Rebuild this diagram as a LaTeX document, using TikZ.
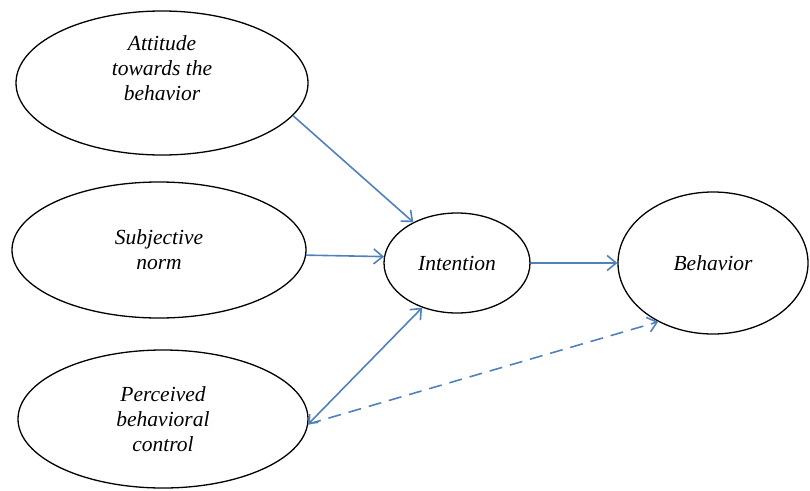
\documentclass[tikz,border=0pt]{standalone}
\usepackage{fontspec}
\setmainfont{Liberation Serif}
\usetikzlibrary{arrows.meta, shapes.geometric}
\definecolor{pathblue}{RGB}{79, 129, 189}

\begin{document}
\begin{tikzpicture}[x=1pt, y=-1pt,
        construct/.style={ellipse, draw=black, line width=1.3pt, inner sep=0pt,
            align=center, font=\fontsize{21.5}{25}\selectfont\itshape},
        link/.style={draw=pathblue, line width=1.6pt,
            -{Straight Barb[length=9pt, width=15pt]}}]
    \useasboundingbox (0, 0) rectangle (810, 490);
    % predictors
    \node[construct, minimum width=292, minimum height=144]
        (att) at (162, 83) {Attitude\\towards the\\behavior\\[4pt]};
    \node[construct, minimum width=294, minimum height=136]
        (subj) at (159, 250) {Subjective\\norm};
    \node[construct, minimum width=290, minimum height=138]
        (perc) at (163, 419) {Perceived\\behavioral\\control};
    % outcomes
    \node[construct, minimum width=146, minimum height=100]
        (intn) at (457, 263) {Intention};
    \node[construct, minimum width=190, minimum height=142]
        (behv) at (713, 263) {Behavior};
    % paths
    \draw[link] (att.-14) -- (intn.137);
    \draw[link] (subj.-2) -- (intn.175);
    \draw[link, {Straight Barb[length=7pt, width=12pt]}-{Straight Barb[length=9pt, width=15pt]}]
        (perc.-2) -- (intn.232);
    \draw[link] (intn.east) -- (behv.west);
    \draw[link, dash pattern=on 13pt off 8pt] (perc.-2) -- (behv.227);
\end{tikzpicture}
\end{document}
